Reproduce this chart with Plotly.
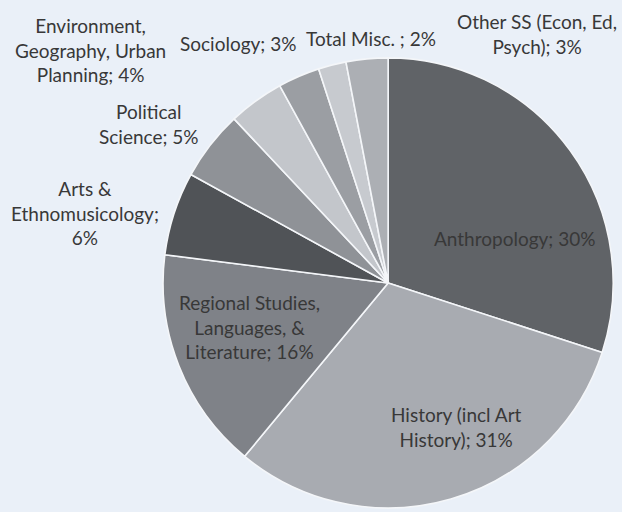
import plotly.graph_objects as go

labels = [
    "Anthropology",
    "History (incl Art History)",
    "Regional Studies, Languages, & Literature",
    "Arts & Ethnomusicology",
    "Political Science",
    "Environment, Geography, Urban Planning",
    "Sociology",
    "Total Misc. ",
    "Other SS (Econ, Ed, Psych)",
]
values = [30, 31, 16, 6, 5, 4, 3, 2, 3]
colors = ["#606367", "#A8ABB1", "#7F8288", "#505357", "#8F9297",
          "#C3C6CB", "#9B9EA3", "#C7CACF", "#ACAFB4"]

# label text, broken as in the reference
label_lines = [
    "Anthropology; 30%",
    "History (incl Art<br>History); 31%",
    "Regional Studies,<br>Languages, &<br>Literature; 16%",
    "Arts &<br>Ethnomusicology;<br>6%",
    "Political<br>Science; 5%",
    "Environment,<br>Geography, Urban<br>Planning; 4%",
    "Sociology; 3%",
    "Total Misc. ; 2%",
    "Other SS (Econ, Ed,<br>Psych); 3%",
]
# label centres in pixels (x, y from top)
label_pos = [(514, 238), (456, 427), (249, 327), (85, 213), (149, 124),
             (90, 50), (238, 43), (371, 38), (537, 34)]

W, H = 622, 512

fig = go.Figure(go.Pie(
    labels=labels,
    values=values,
    sort=False,
    direction="clockwise",
    rotation=0,
    marker=dict(colors=colors, line=dict(color="#F4F6F9", width=1.6)),
    textinfo="none",
    showlegend=False,
    domain=dict(x=[0.262, 0.986], y=[0.0078, 0.887]),
))

for txt, (px, py) in zip(label_lines, label_pos):
    fig.add_annotation(
        x=px / W, y=1 - py / H, xref="paper", yref="paper",
        text=txt, showarrow=False, xanchor="center", yanchor="middle",
        font=dict(family="Lato, Open Sans, sans-serif", size=19, color="#383838"),
        align="center",
    )

fig.update_layout(
    width=W, height=H,
    margin=dict(l=0, r=0, t=0, b=0),
    paper_bgcolor="#EAF0F8",
    plot_bgcolor="#EAF0F8",
)

fig.write_html("out.html",
               config={"displayModeBar": False},
               post_script="document.body.style.margin='0';"
                           "document.body.style.background='#EAF0F8';")
